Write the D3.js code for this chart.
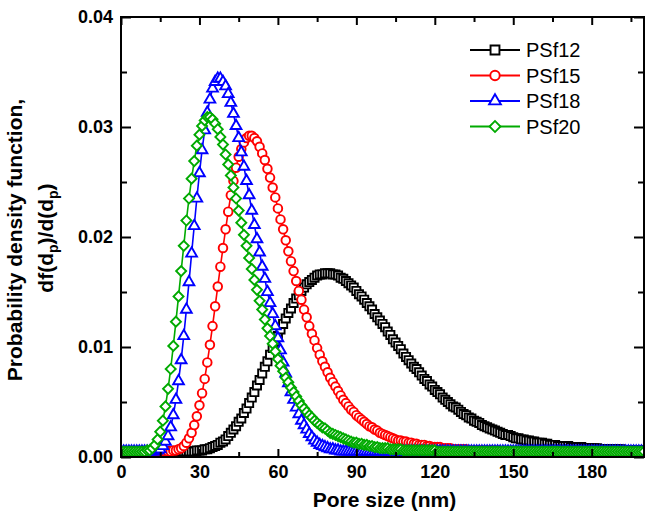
<!DOCTYPE html>
<html>
<head>
<meta charset="utf-8">
<script src="https://cdn.jsdelivr.net/npm/d3@7"></script>
<style>
body { margin: 0; background: #fff; }
svg text { font-family: "Liberation Sans", Arial, sans-serif; }
</style>
</head>
<body>
<div id="chart"></div>
<script>
// pore size grid, 1 nm steps from 0 to 200 nm
const poreSize = d3.range(0, 201);

const psf12 = [
  .0005,.0005,.0005,.0005,.0005,.0005,.0005,.0005,.0005,.0005,
  .0005,.0005,.0005,.0005,.0005,.0005,.0005,.0005,.0005,.0005,
  .0005,.0005,.0005,.0005,.0005,.0005,.0005,.0005,.0005,.0006,
  .0006,.0006,.0007,.0007,.0008,.0009,.0010,.0011,.0013,.0014,
  .0016,.0019,.0022,.0025,.0028,.0032,.0035,.0040,.0044,.0049,
  .0054,.0059,.0065,.0070,.0076,.0082,.0087,.0093,.0099,.0105,
  .0110,.0116,.0121,.0126,.0131,.0135,.0140,.0144,.0147,.0151,
  .0154,.0157,.0159,.0161,.0163,.0165,.0166,.0166,.0167,.0167,
  .0167,.0166,.0166,.0165,.0163,.0162,.0160,.0158,.0156,.0154,
  .0151,.0148,.0146,.0143,.0140,.0137,.0134,.0130,.0127,.0124,
  .0121,.0118,.0114,.0111,.0107,.0104,.0101,.0098,.0094,.0091,
  .0088,.0085,.0082,.0080,.0077,.0074,.0071,.0069,.0066,.0064,
  .0061,.0059,.0057,.0054,.0052,.0050,.0048,.0046,.0045,.0043,
  .0041,.0039,.0038,.0036,.0035,.0033,.0032,.0031,.0029,.0028,
  .0027,.0026,.0025,.0024,.0023,.0022,.0021,.0020,.0020,.0019,
  .0018,.0017,.0017,.0016,.0016,.0015,.0015,.0014,.0014,.0013,
  .0013,.0013,.0012,.0012,.0011,.0011,.0011,.0010,.0010,.0010,
  .0010,.0010,.0009,.0009,.0009,.0009,.0009,.0008,.0008,.0008,
  .0008,.0008,.0008,.0007,.0007,.0007,.0007,.0007,.0007,.0007,
  .0007,.0007,.0006,.0006,.0006,.0006,.0006,.0006,.0006,.0006,
  .0006
];

const psf15 = [
  .0005,.0005,.0005,.0005,.0005,.0005,.0005,.0005,.0005,.0005,
  .0005,.0005,.0005,.0005,.0005,.0005,.0005,.0005,.0005,.0005,
  .0006,.0006,.0007,.0008,.0010,.0013,.0017,.0022,.0029,.0037,
  .0047,.0058,.0071,.0086,.0102,.0119,.0137,.0155,.0173,.0190,
  .0207,.0223,.0238,.0251,.0263,.0273,.0280,.0286,.0290,.0292,
  .0292,.0290,.0287,.0282,.0276,.0270,.0262,.0254,.0245,.0236,
  .0226,.0216,.0207,.0197,.0187,.0178,.0169,.0160,.0151,.0143,
  .0134,.0127,.0119,.0112,.0106,.0099,.0093,.0087,.0082,.0077,
  .0072,.0068,.0064,.0060,.0056,.0052,.0049,.0046,.0043,.0041,
  .0038,.0036,.0034,.0032,.0030,.0028,.0027,.0025,.0024,.0022,
  .0021,.0020,.0019,.0018,.0017,.0016,.0015,.0015,.0014,.0014,
  .0013,.0013,.0012,.0012,.0011,.0011,.0011,.0010,.0010,.0009,
  .0009,.0009,.0009,.0008,.0008,.0008,.0008,.0007,.0007,.0007,
  .0007,.0007,.0007,.0006,.0006,.0006,.0006,.0006,.0006,.0006,
  .0006,.0006,.0006,.0006,.0006,.0005,.0005,.0005,.0005,.0005,
  .0005,.0005,.0005,.0005,.0005,.0005,.0005,.0005,.0005,.0005,
  .0005,.0005,.0005,.0005,.0005,.0005,.0005,.0005,.0005,.0005,
  .0005,.0005,.0005,.0005,.0005,.0005,.0005,.0005,.0005,.0005,
  .0005,.0005,.0005,.0005,.0005,.0005,.0005,.0005,.0005,.0005,
  .0005,.0005,.0005,.0005,.0005,.0005,.0005,.0005,.0005,.0005,
  .0005
];

const psf18 = [
  .0005,.0005,.0005,.0005,.0005,.0005,.0005,.0005,.0005,.0005,
  .0005,.0005,.0005,.0005,.0006,.0007,.0010,.0014,.0019,.0027,
  .0038,.0052,.0069,.0088,.0110,.0134,.0159,.0185,.0210,.0235,
  .0258,.0279,.0297,.0313,.0325,.0335,.0341,.0344,.0344,.0341,
  .0337,.0330,.0322,.0312,.0301,.0290,.0277,.0264,.0251,.0238,
  .0224,.0211,.0198,.0186,.0173,.0162,.0150,.0140,.0130,.0119,
  .0108,.0097,.0086,.0076,.0067,.0059,.0052,.0045,.0039,.0033,
  .0029,.0025,.0021,.0018,.0015,.0013,.0011,.0010,.0009,.0008,
  .0007,.0007,.0006,.0006,.0005,.0005,.0005,.0005,.0005,.0005,
  .0005,.0005,.0005,.0005,.0005,.0005,.0005,.0005,.0005,.0005,
  .0005,.0005,.0005,.0005,.0005,.0005,.0005,.0005,.0005,.0005,
  .0005,.0005,.0005,.0005,.0005,.0005,.0005,.0005,.0005,.0005,
  .0005,.0005,.0005,.0005,.0005,.0005,.0005,.0005,.0005,.0005,
  .0005,.0005,.0005,.0005,.0005,.0005,.0005,.0005,.0005,.0005,
  .0005,.0005,.0005,.0005,.0005,.0005,.0005,.0005,.0005,.0005,
  .0005,.0005,.0005,.0005,.0005,.0005,.0005,.0005,.0005,.0005,
  .0005,.0005,.0005,.0005,.0005,.0005,.0005,.0005,.0005,.0005,
  .0005,.0005,.0005,.0005,.0005,.0005,.0005,.0005,.0005,.0005,
  .0005,.0005,.0005,.0005,.0005,.0005,.0005,.0005,.0005,.0005,
  .0005,.0005,.0005,.0005,.0005,.0005,.0005,.0005,.0005,.0005,
  .0005
];

const psf20 = [
  .0005,.0005,.0005,.0005,.0005,.0005,.0005,.0005,.0005,.0005,
  .0006,.0006,.0008,.0011,.0016,.0023,.0033,.0046,.0062,.0080,
  .0101,.0123,.0146,.0169,.0192,.0215,.0235,.0253,.0269,.0283,
  .0293,.0301,.0306,.0309,.0309,.0307,.0303,.0298,.0291,.0284,
  .0275,.0266,.0256,.0245,.0235,.0224,.0213,.0202,.0192,.0181,
  .0171,.0161,.0152,.0142,.0134,.0125,.0117,.0110,.0103,.0096,
  .0089,.0083,.0078,.0072,.0068,.0063,.0059,.0055,.0051,.0047,
  .0044,.0041,.0038,.0036,.0033,.0031,.0029,.0027,.0026,.0024,
  .0022,.0021,.0020,.0019,.0018,.0017,.0016,.0015,.0014,.0013,
  .0013,.0012,.0012,.0011,.0011,.0010,.0010,.0009,.0009,.0008,
  .0008,.0008,.0008,.0007,.0007,.0007,.0007,.0007,.0006,.0006,
  .0006,.0006,.0006,.0006,.0006,.0006,.0006,.0006,.0006,.0006,
  .0006,.0005,.0005,.0005,.0005,.0005,.0005,.0005,.0005,.0005,
  .0005,.0005,.0005,.0005,.0005,.0005,.0005,.0005,.0005,.0005,
  .0005,.0005,.0005,.0005,.0005,.0005,.0005,.0005,.0005,.0005,
  .0005,.0005,.0005,.0005,.0005,.0005,.0005,.0005,.0005,.0005,
  .0005,.0005,.0005,.0005,.0005,.0005,.0005,.0005,.0005,.0005,
  .0005,.0005,.0005,.0005,.0005,.0005,.0005,.0005,.0005,.0005,
  .0005,.0005,.0005,.0005,.0005,.0005,.0005,.0005,.0005,.0005,
  .0005,.0005,.0005,.0005,.0005,.0005,.0005,.0005,.0005,.0005,
  .0005
];

const seriesNames = ["PSf12", "PSf15", "PSf18", "PSf20"];
const xTicks = [0, 30, 60, 90, 120, 150, 180];
const xMinorTicks = [15, 45, 75, 105, 135, 165, 195];
const yTicks = [0, 0.01, 0.02, 0.03, 0.04];
const yMinorTicks = [0.005, 0.015, 0.025, 0.035];

const width = 645;
const height = 513;
const plot = {left: 121, right: 644, top: 17, bottom: 457};

const svg = d3.select("#chart")
    .append("svg")
    .attr("width", width)
    .attr("height", height);

const x = d3.scaleLinear().domain([0, 200]).range([plot.left, plot.right]);
const y = d3.scaleLinear().domain([0, 0.04]).range([plot.bottom, plot.top]);

// symbol, size and rotation of each series' markers
const series = [
    {name: seriesNames[0], values: psf12, color: "#000000", symbol: d3.symbolSquare, size: 66, rot: 0},
    {name: seriesNames[1], values: psf15, color: "#ff0000", symbol: d3.symbolCircle, size: 58, rot: 0},
    {name: seriesNames[2], values: psf18, color: "#0000ff", symbol: d3.symbolTriangle, size: 50, rot: 0},
    {name: seriesNames[3], values: psf20, color: "#00aa00", symbol: d3.symbolSquare, size: 50, rot: 45}
];

svg.append("clipPath").attr("id", "plot-clip")
    .append("rect")
    .attr("x", plot.left).attr("y", plot.top)
    .attr("width", plot.right - plot.left).attr("height", plot.bottom - plot.top);

const line = d3.line()
    .x((d, i) => x(poreSize[i]))
    .y(d => y(d));

const dataLayer = svg.append("g").attr("clip-path", "url(#plot-clip)");

series.forEach(s => {
    const g = dataLayer.append("g");
    g.append("path")
        .attr("d", line(s.values))
        .attr("fill", "none")
        .attr("stroke", s.color)
        .attr("stroke-width", 1.6);
    g.selectAll("path.marker")
        .data(s.values)
        .enter()
        .append("path")
        .attr("class", "marker")
        .attr("transform", (d, i) => `translate(${x(poreSize[i])},${y(d)}) rotate(${s.rot})`)
        .attr("d", d3.symbol().type(s.symbol).size(s.size))
        .attr("fill", "#fff")
        .attr("stroke", s.color)
        .attr("stroke-width", 1.9);
});

// axes: ticks point inwards, mirrored on top and right
function styleAxis(g) {
    g.select(".domain").remove();
    g.selectAll(".tick line").attr("stroke", "#000").attr("stroke-width", 2);
    g.selectAll(".tick text")
        .attr("fill", "#000")
        .style("font-size", "18px")
        .style("font-weight", "bold");
}

svg.append("g")
    .attr("transform", `translate(0,${plot.bottom})`)
    .call(d3.axisBottom(x).tickValues(xTicks).tickSize(-8).tickPadding(8).tickFormat(d3.format("d")))
    .call(styleAxis);
svg.append("g")
    .attr("transform", `translate(0,${plot.bottom})`)
    .call(d3.axisBottom(x).tickValues(xMinorTicks).tickSize(-5).tickFormat(""))
    .call(styleAxis);
svg.append("g")
    .attr("transform", `translate(0,${plot.top})`)
    .call(d3.axisTop(x).tickValues(xTicks).tickSize(-8).tickFormat(""))
    .call(styleAxis);
svg.append("g")
    .attr("transform", `translate(0,${plot.top})`)
    .call(d3.axisTop(x).tickValues(xMinorTicks).tickSize(-5).tickFormat(""))
    .call(styleAxis);

svg.append("g")
    .attr("transform", `translate(${plot.left},0)`)
    .call(d3.axisLeft(y).tickValues(yTicks).tickSize(-10).tickPadding(8).tickFormat(d3.format(".2f")))
    .call(styleAxis);
svg.append("g")
    .attr("transform", `translate(${plot.left},0)`)
    .call(d3.axisLeft(y).tickValues(yMinorTicks).tickSize(-6).tickFormat(""))
    .call(styleAxis);
svg.append("g")
    .attr("transform", `translate(${plot.right},0)`)
    .call(d3.axisRight(y).tickValues(yTicks).tickSize(-10).tickFormat(""))
    .call(styleAxis);
svg.append("g")
    .attr("transform", `translate(${plot.right},0)`)
    .call(d3.axisRight(y).tickValues(yMinorTicks).tickSize(-6).tickFormat(""))
    .call(styleAxis);

svg.append("rect")
    .attr("x", plot.left).attr("y", plot.top)
    .attr("width", plot.right - plot.left).attr("height", plot.bottom - plot.top)
    .attr("fill", "none")
    .attr("stroke", "#000")
    .attr("stroke-width", 2);

// axis titles
svg.append("text")
    .attr("x", (plot.left + plot.right) / 2 + 2)
    .attr("y", 507)
    .attr("text-anchor", "middle")
    .style("font-size", "21px")
    .style("font-weight", "bold")
    .text("Pore size (nm)");

svg.append("text")
    .attr("transform", "translate(22,240) rotate(-90)")
    .attr("text-anchor", "middle")
    .style("font-size", "21px")
    .style("font-weight", "bold")
    .text("Probability density function,");

const yTitle2 = svg.append("text")
    .attr("transform", "translate(53,238) rotate(-90)")
    .attr("text-anchor", "middle")
    .style("font-size", "21px")
    .style("font-weight", "bold");
yTitle2.append("tspan").text("df(d");
yTitle2.append("tspan").attr("dy", 5).style("font-size", "14px").text("p");
yTitle2.append("tspan").attr("dy", -5).text(")/d(d");
yTitle2.append("tspan").attr("dy", 5).style("font-size", "14px").text("p");
yTitle2.append("tspan").attr("dy", -5).text(")");

// legend
const legend = svg.append("g");
series.forEach((s, i) => {
    const ly = 50 + i * 25.5;
    legend.append("line")
        .attr("x1", 470).attr("x2", 520)
        .attr("y1", ly).attr("y2", ly)
        .attr("stroke", s.color)
        .attr("stroke-width", 1.8);
    legend.append("path")
        .attr("transform", `translate(495,${ly}) rotate(${s.rot})`)
        .attr("d", d3.symbol().type(s.symbol).size(s.size * 1.2))
        .attr("fill", "#fff")
        .attr("stroke", s.color)
        .attr("stroke-width", 1.9);
    legend.append("text")
        .attr("x", 526)
        .attr("y", ly)
        .attr("dy", "0.36em")
        .style("font-size", "20px")
        .text(s.name);
});
</script>
</body>
</html>
